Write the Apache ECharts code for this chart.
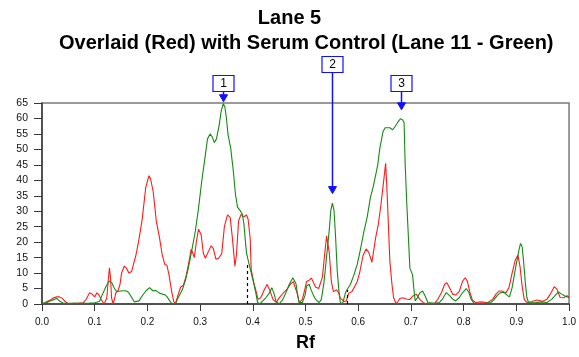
<!DOCTYPE html>
<html>
<head>
<meta charset="utf-8">
<script src="https://cdn.jsdelivr.net/npm/echarts@6/dist/echarts.min.js"></script>
<style>
html,body{margin:0;padding:0;background:#fff;}
#chart{width:579px;height:357px;}
</style>
</head>
<body>
<div id="chart"></div>
<script>
// ---- data ----
var titleLine1 = 'Lane 5';
var titleLine2 = 'Overlaid (Red) with Serum Control (Lane 11 - Green)';
var xName = 'Rf';
var redName = 'Lane 5';
var greenName = 'Lane 11 (Serum Control)';

var redData = [
[0.000,0],[0.005,0.3],[0.009,0.8],[0.015,1.2],[0.021,1.9],[0.028,2.3],[0.033,2.3],[0.038,1.9],[0.044,0.8],[0.050,0.1],
[0.060,0.2],[0.070,0.3],[0.078,0.4],[0.084,1.5],[0.090,3.6],[0.095,3.2],[0.100,2.3],[0.104,3.6],[0.108,3.0],[0.112,1.5],
[0.118,0],[0.123,2],[0.125,6.4],[0.128,11.7],[0.130,8.5],[0.132,2],[0.135,0],[0.138,2],[0.140,3.6],[0.144,4.2],
[0.148,6.3],[0.151,10],[0.156,12.2],[0.160,11.6],[0.165,10],[0.170,10.5],[0.175,13.8],[0.178,15.6],[0.184,20.9],[0.190,27.3],
[0.197,37.9],[0.203,41.5],[0.206,40.5],[0.211,36.3],[0.217,26.7],[0.223,21.4],[0.228,16],[0.233,12.8],[0.237,12.5],[0.241,9.4],
[0.246,4.1],[0.250,0.8],[0.253,0],[0.257,2.3],[0.263,5.5],[0.268,6],[0.273,8.7],[0.278,12.9],[0.283,17.7],[0.286,16.5],
[0.289,15],[0.293,20.3],[0.297,24.2],[0.302,22.4],[0.306,16.5],[0.310,14.8],[0.316,17.1],[0.321,18.8],[0.325,18],[0.330,14.5],
[0.335,14.8],[0.341,16.2],[0.346,25],[0.352,28.8],[0.357,28],[0.361,21.8],[0.366,12.2],[0.369,16],[0.373,26.9],[0.378,29],
[0.383,28.2],[0.388,28.8],[0.391,27.5],[0.395,21.2],[0.397,11],[0.402,6.8],[0.407,3.6],[0.410,1.5],[0.415,2],[0.422,4.7],
[0.427,6.3],[0.432,4.5],[0.438,1.6],[0.444,0.5],[0.450,2],[0.457,3.4],[0.466,5],[0.472,6.6],[0.477,7.2],[0.481,5],
[0.485,3.1],[0.488,0.4],[0.494,1.5],[0.499,5],[0.502,7.3],[0.507,7.7],[0.511,8.4],[0.515,7],[0.519,5.5],[0.525,5],
[0.532,8.7],[0.536,15.6],[0.540,22],[0.543,21.5],[0.545,16.7],[0.549,7.2],[0.553,4],[0.559,4.6],[0.563,3.5],[0.566,1.9],
[0.573,0.85],[0.577,0.9],[0.582,3.5],[0.588,4],[0.593,5.6],[0.598,7.2],[0.603,10.4],[0.609,15.6],[0.615,17.8],[0.620,16.7],
[0.626,13.5],[0.629,13],[0.633,21.4],[0.638,25.7],[0.643,32],[0.648,39.4],[0.652,45.5],[0.655,35.1],[0.658,22.3],[0.660,13.8],
[0.664,6.4],[0.667,2.1],[0.672,0],[0.679,1.8],[0.685,2],[0.691,1.6],[0.698,1.5],[0.704,2.6],[0.710,3.2],[0.717,1.5],
[0.723,0.5],[0.730,0],[0.745,0.2],[0.751,1.5],[0.758,3.7],[0.764,6.4],[0.768,6.9],[0.773,5.3],[0.779,3.2],[0.785,2.9],
[0.792,4.2],[0.798,7.4],[0.803,8.5],[0.807,7.4],[0.812,3.7],[0.817,1.1],[0.823,0.5],[0.833,0.7],[0.845,0.4],[0.855,1.5],
[0.861,3.1],[0.867,4.2],[0.873,4.2],[0.880,3.6],[0.886,5.3],[0.892,10],[0.898,14.2],[0.903,15.8],[0.907,12.1],[0.911,5.7],
[0.915,1.5],[0.920,0.5],[0.930,0.8],[0.939,1.3],[0.950,0.9],[0.958,1.5],[0.964,3.1],[0.972,5.6],[0.977,4.8],[0.983,2.1],
[0.990,2],[0.996,2.7],[1.000,2.3]
];

var greenData = [
[0.000,0.2],[0.010,0.5],[0.015,1],[0.024,1.5],[0.028,1.8],[0.033,1],[0.040,0.3],[0.050,0.2],[0.070,0.2],[0.090,0.3],
[0.100,0.4],[0.109,0.8],[0.115,3.2],[0.122,5.9],[0.128,7.4],[0.132,7],[0.137,5.2],[0.141,4.1],[0.147,4.1],[0.153,4.3],
[0.159,4.3],[0.164,3.8],[0.170,2.2],[0.175,0.7],[0.178,0.5],[0.184,1],[0.190,2.6],[0.197,4.2],[0.204,5.3],[0.211,4.2],
[0.216,4.4],[0.222,3.6],[0.228,3.2],[0.233,3],[0.238,2.2],[0.242,1.1],[0.247,0],[0.253,0],[0.259,2.3],[0.266,4.5],
[0.272,7.6],[0.278,11.9],[0.284,17.2],[0.291,23.6],[0.297,31],[0.303,39.6],[0.309,47],[0.314,53.4],[0.319,55],[0.323,54],
[0.327,52.2],[0.331,53.4],[0.336,57.7],[0.340,62.4],[0.344,64.8],[0.347,63.7],[0.350,60],[0.353,54.7],[0.358,50.4],[0.363,43],
[0.367,35.5],[0.371,31.3],[0.376,30.2],[0.380,29.1],[0.383,26],[0.388,16.5],[0.391,14.3],[0.394,14.8],[0.397,10.1],[0.402,6.4],
[0.405,4.2],[0.409,0.5],[0.413,0],[0.419,1],[0.425,2.1],[0.432,3.7],[0.436,5.3],[0.440,3.5],[0.444,0.9],[0.450,0],
[0.457,1.5],[0.463,3.7],[0.469,6.3],[0.476,8.5],[0.479,9],[0.482,6.5],[0.485,2.7],[0.488,0.5],[0.494,0.5],[0.499,2.7],
[0.502,5.8],[0.507,6.4],[0.510,4.8],[0.515,2.8],[0.519,1.5],[0.526,0.5],[0.530,1.5],[0.535,6.9],[0.540,15.4],[0.545,23.9],
[0.548,30.3],[0.551,32.6],[0.554,30.3],[0.557,21.8],[0.560,11.2],[0.563,4.8],[0.566,0.5],[0.570,0],[0.576,3.7],[0.580,5],
[0.585,6.3],[0.591,9],[0.598,12.7],[0.604,17.5],[0.610,22.8],[0.617,28.1],[0.623,34.4],[0.628,37.6],[0.632,40.8],[0.637,45],
[0.641,50.4],[0.647,55.7],[0.651,57],[0.654,56.6],[0.660,57],[0.665,56.3],[0.670,57.4],[0.676,59],[0.680,59.9],[0.684,59.6],
[0.687,58.7],[0.689,45.5],[0.692,32.8],[0.695,22.3],[0.698,11.6],[0.703,9.5],[0.706,4.2],[0.708,1],[0.712,2],[0.717,3.6],
[0.722,4.2],[0.727,2.6],[0.732,0.5],[0.745,0.2],[0.754,0.5],[0.760,1.6],[0.767,3.7],[0.770,4.2],[0.774,2.6],[0.779,1.6],
[0.785,1],[0.792,2.1],[0.798,3.7],[0.805,5],[0.810,3.7],[0.814,1.6],[0.821,0],[0.840,0.2],[0.852,0.5],[0.858,1.5],
[0.864,2.8],[0.870,3.7],[0.877,3.7],[0.883,2.8],[0.887,2.3],[0.892,5.3],[0.898,11.1],[0.905,17.5],[0.908,19.6],[0.911,18.5],
[0.914,13.3],[0.917,6.9],[0.920,2.1],[0.923,0.5],[0.935,0.4],[0.947,0.7],[0.958,0.5],[0.967,1.5],[0.973,2.6],[0.980,3.9],
[0.986,3.2],[0.992,2.6],[0.997,2.3],[1.000,2]
];

// peak annotations: label, Rf position, value of arrow tip
var annoLabels = ['1', '2', '3'];
var annoRf = [0.343, 0.551, 0.681];
var annoTip = [65.4, 35.7, 62.8];

// dashed drop lines: [Rf, top value]
var dropLines = [[0.389, 13], [0.580, 4.5]];

// axis ticks
var xMin = 0, xMax = 1, xStep = 0.1;
var yMin = 0, yMax = 65, yStep = 5;

// ---- chart ----
var FONT = '"Liberation Sans", Arial, Helvetica, sans-serif';
var chart = echarts.init(document.getElementById('chart'), null, {renderer: 'canvas'});

var option = {
  animation: false,
  backgroundColor: '#ffffff',
  title: [
    {text: titleLine1, left: 'center', top: 8, padding: 0,
     textStyle: {fontFamily: FONT, fontSize: 20, fontWeight: 'bold', color: '#000', lineHeight: 20}},
    {text: titleLine2, left: 59, top: 33, padding: 0,
     textStyle: {fontFamily: FONT, fontSize: 20, fontWeight: 'bold', color: '#000', lineHeight: 20}}
  ],
  grid: {left: 42, right: 5, top: 103, bottom: 50, show: true,
         borderColor: '#7a7a7a', borderWidth: 1.5, backgroundColor: 'transparent'},
  xAxis: {
    type: 'value', min: xMin, max: xMax, interval: xStep,
    name: xName, nameLocation: 'middle', nameGap: 30,
    nameTextStyle: {fontFamily: FONT, fontSize: 18, fontWeight: 'bold', color: '#000'},
    axisLine: {show: true, lineStyle: {color: '#3a3a3a', width: 1.5}},
    axisTick: {show: true, length: 7, lineStyle: {color: '#3a3a3a', width: 1}},
    axisLabel: {fontFamily: FONT, fontSize: 10, color: '#111', margin: 13,
                formatter: function (v) { return v.toFixed(1); }},
    splitLine: {show: false}
  },
  yAxis: {
    type: 'value', min: yMin, max: yMax, interval: yStep,
    axisLine: {show: true, lineStyle: {color: '#3a3a3a', width: 1.5}},
    axisTick: {show: true, length: 8, lineStyle: {color: '#3a3a3a', width: 1}},
    axisLabel: {fontFamily: FONT, fontSize: 10.5, color: '#111', margin: 14},
    splitLine: {show: false}
  },
  series: [
    {name: redName, type: 'line', data: redData, showSymbol: false, symbol: 'none',
     lineStyle: {color: '#ff1a1a', width: 1.1}, itemStyle: {color: '#ff1a1a'},
     markLine: {silent: true, symbol: ['none', 'none'], label: {show: false},
       lineStyle: {color: '#000', type: [3, 3], width: 1.2},
       data: dropLines.map(function (d) { return [{coord: [d[0], 0]}, {coord: [d[0], d[1]]}]; })}
    },
    {name: greenName, type: 'line', data: greenData, showSymbol: false, symbol: 'none',
     lineStyle: {color: '#138a13', width: 1.1}, itemStyle: {color: '#138a13'}}
  ]
};
chart.setOption(option);

// annotation boxes + arrows placed through the chart's own coordinate system
var boxBottomAboveTop = [12, 31, 12]; // px above plot top (layout)
var gridTopPx = chart.convertToPixel({gridIndex: 0}, [0, yMax])[1];
var graphics = [];
var BLUE = '#1010ff';
for (var i = 0; i < annoLabels.length; i++) {
  var tip = chart.convertToPixel({gridIndex: 0}, [annoRf[i], annoTip[i]]);
  var cx = Math.round(tip[0]) + 0.5;
  var boxBottom = Math.round(gridTopPx - boxBottomAboveTop[i]) + 0.5;
  var bw = 21, bh = 16;
  graphics.push({type: 'line', z: 100,
    shape: {x1: cx, y1: boxBottom, x2: cx, y2: tip[1] - 6},
    style: {stroke: BLUE, lineWidth: 1.5}});
  graphics.push({type: 'polygon', z: 100,
    shape: {points: [[cx - 4, tip[1] - 7], [cx + 4, tip[1] - 7], [cx, tip[1]]]},
    style: {fill: BLUE, stroke: BLUE, lineWidth: 1}});
  graphics.push({type: 'rect', z: 101,
    shape: {x: cx - bw / 2, y: boxBottom - bh, width: bw, height: bh},
    style: {fill: '#ffffff', stroke: BLUE, lineWidth: 1.2}});
  graphics.push({type: 'text', z: 102,
    style: {text: annoLabels[i], x: cx, y: boxBottom - bh / 2 + 0.5, textAlign: 'center', textVerticalAlign: 'middle',
            font: '12px ' + FONT, fill: '#000'}});
}
chart.setOption({graphic: graphics});
</script>
</body>
</html>
